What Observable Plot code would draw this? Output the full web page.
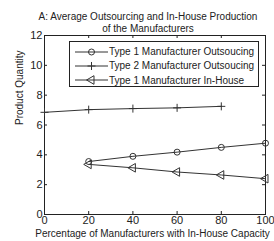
<!DOCTYPE html>
<html>
<head>
<meta charset="utf-8">
<script src="https://cdn.jsdelivr.net/npm/d3@7"></script>
<script src="https://cdn.jsdelivr.net/npm/@observablehq/plot@0.6"></script>
<style>
  html, body { margin: 0; padding: 0; background: #fff; }
  #wrap { position: relative; width: 274px; height: 241px; font-family: "Liberation Sans", Arial, sans-serif; }
  #legend { position: absolute; left: 69px; top: 41px; width: 190px; height: 46px; border: 1px solid #222; background: #fff; box-sizing: border-box; }
  .row { position: absolute; left: 0; height: 14px; display: flex; align-items: center; font-size: 10px; color: #222; white-space: nowrap; }
  .row svg { margin-left: 5px; margin-right: 1px; }
</style>
</head>
<body>
<div id="wrap"></div>
<script>
const xValues = [0, 20, 40, 60, 80, 100];
const type1Outsourcing = [null, 3.55, 3.9, 4.18, 4.5, 4.78];
const type2Outsourcing = [6.85, 7.03, 7.1, 7.15, 7.25, null];
const type1InHouse = [null, 3.36, 3.13, 2.85, 2.65, 2.4];
const seriesNames = ["Type 1 Manufacturer Outsoucing", "Type 2 Manufacturer Outsoucing", "Type 1 Manufacturer In-House"];
const xTicks = [0, 20, 40, 60, 80, 100];
const yTicks = [0, 2, 4, 6, 8, 10, 12];
const titleLines = ["A: Average Outsourcing and In-House Production", "of the Manufacturers"];
const xLabel = "Percentage of Manufacturers with In-House Capacity";
const yLabel = "Product Quantity";

const symbols = [
  {symbol: "circle", r: 3, rotate: 0},
  {symbol: "plus", r: 2.7, rotate: 0},
  {symbol: "triangle", r: 3.2, rotate: -90}
];
const allSeries = [type1Outsourcing, type2Outsourcing, type1InHouse];
const rows = [];
allSeries.forEach((vals, s) => {
  vals.forEach((v, i) => { if (v != null) rows.push({series: seriesNames[s], s, x: xValues[i], y: v}); });
});

const ink = "#222";
const lineColor = "#333";
const W = 274, H = 241;
const mL = 44, mR = 9, mT = 35, mB = 27;
const tick = 3;
const innerW = W - mL - mR, innerH = H - mT - mB;
const fs = 10;

const marks = [
  Plot.gridX(xTicks, {stroke: ink, strokeOpacity: 1, insetTop: innerH - tick}),
  Plot.gridX(xTicks, {stroke: ink, strokeOpacity: 1, insetBottom: innerH - tick}),
  Plot.gridY(yTicks, {stroke: ink, strokeOpacity: 1, insetRight: innerW - tick}),
  Plot.gridY(yTicks, {stroke: ink, strokeOpacity: 1, insetLeft: innerW - tick}),
  Plot.axisX(xTicks, {tickSize: 0, tickPadding: 2, fontSize: 11, fill: ink, label: null}),
  Plot.axisY(yTicks, {tickSize: 0, tickPadding: 2, fontSize: 11, fill: ink, label: null}),
  Plot.frame({stroke: ink}),
];
symbols.forEach((sym, s) => {
  const data = rows.filter(d => d.s === s);
  marks.push(Plot.line(data, {x: "x", y: "y", stroke: lineColor, strokeWidth: 1, clip: false}));
  marks.push(Plot.dot(data, {x: "x", y: "y", symbol: () => sym.symbol, r: sym.r, rotate: sym.rotate, stroke: lineColor, fill: "none", strokeWidth: 1}));
});
marks.push(Plot.text([titleLines[0]], {text: d => d, frameAnchor: "top", dx: -7, dy: -22.5, fontSize: fs, fill: ink}));
marks.push(Plot.text([titleLines[1]], {text: d => d, frameAnchor: "top", dx: -7, dy: -10.5, fontSize: fs, fill: ink}));
marks.push(Plot.text([xLabel], {text: d => d, frameAnchor: "bottom", dx: -2.5, dy: 22, fontSize: fs, fill: ink}));
marks.push(Plot.text([yLabel], {text: d => d, frameAnchor: "left", dx: -25, rotate: -90, fontSize: fs, fill: ink}));

const chart = Plot.plot({
  width: W, height: H,
  marginLeft: mL, marginRight: mR, marginTop: mT, marginBottom: mB,
  style: {fontFamily: '"Liberation Sans", Arial, sans-serif', background: "#fff", overflow: "visible"},
  x: {domain: [0, 100]},
  y: {domain: [0, 12]},
  marks
});
const wrap = document.getElementById("wrap");
wrap.appendChild(chart);

const legend = document.createElement("div");
legend.id = "legend";
wrap.appendChild(legend);
seriesNames.forEach((name, s) => {
  const row = document.createElement("div");
  row.className = "row";
  row.style.top = (2.5 + s * 14.3) + "px";
  const svg = d3.create("svg").attr("width", 33).attr("height", 14);
  svg.append("line").attr("x1", 0).attr("x2", 33).attr("y1", 7).attr("y2", 7).attr("stroke", lineColor);
  const sym = symbols[s];
  const d3sym = {circle: d3.symbolCircle, plus: d3.symbolPlus, triangle: d3.symbolTriangle}[sym.symbol];
  svg.append("path").attr("d", d3.symbol(d3sym, Math.PI * sym.r * sym.r)())
    .attr("transform", `translate(16.5,7) rotate(${sym.rotate})`)
    .attr("fill", "none").attr("stroke", lineColor);
  row.appendChild(svg.node());
  const span = document.createElement("span");
  span.textContent = name;
  row.appendChild(span);
  legend.appendChild(row);
});
</script>
</body>
</html>
